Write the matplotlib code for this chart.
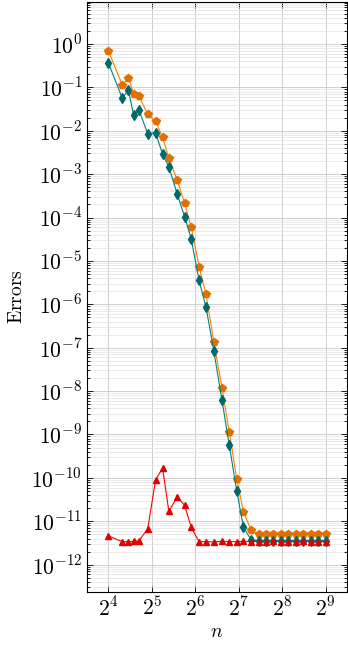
import matplotlib
matplotlib.use("Agg")
import matplotlib.pyplot as plt
from matplotlib.ticker import LogLocator, NullFormatter, FixedLocator

plt.rcParams['mathtext.fontset'] = 'cm'
plt.rcParams['font.family'] = 'serif'
plt.rcParams['font.serif'] = ['DejaVu Serif']

# sample sizes n
n = [16, 20, 22, 24, 26, 30, 34, 38, 42, 48, 54, 60, 68, 76, 86, 98, 110, 124,
     138, 156, 176, 198, 222, 251, 282, 319, 358, 405, 455, 512]

err_orange = [0.7, 0.1135, 0.165, 0.0716, 0.0634, 0.024, 0.0166, 0.00708,
              0.0024, 7.24e-4, 2.14e-4, 6.03e-5, 7.41e-6, 1.70e-6, 1.38e-7,
              1.20e-8, 1.17e-9, 9.55e-11, 1.66e-11, 6.17e-12, 5.0e-12,
              5.2e-12, 5.1e-12, 5.1e-12, 5.0e-12, 5.1e-12, 5.1e-12, 5.2e-12,
              5.1e-12, 5.1e-12]
err_teal = [0.37, 0.0562, 0.0885, 0.0228, 0.0306, 0.00857, 0.00904, 0.00288,
            0.00148, 3.47e-4, 1.05e-4, 3.24e-5, 3.55e-6, 8.51e-7, 8.51e-8,
            6.17e-9, 5.75e-10, 5.01e-11, 7.24e-12, 3.72e-12, 3.6e-12,
            3.6e-12, 3.6e-12, 3.6e-12, 3.6e-12, 3.6e-12, 3.6e-12, 3.6e-12,
            3.6e-12, 3.6e-12]
err_red = [4.6e-12, 3.39e-12, 3.39e-12, 3.45e-12, 3.5e-12, 6.76e-12,
           8.91e-11, 1.70e-10, 1.70e-11, 3.63e-11, 2.34e-11, 7.24e-12,
           3.39e-12, 3.39e-12, 3.35e-12, 3.45e-12, 3.4e-12, 3.4e-12,
           3.45e-12, 3.4e-12, 3.4e-12, 3.4e-12, 3.45e-12, 3.4e-12, 3.4e-12,
           3.4e-12, 3.45e-12, 3.4e-12, 3.4e-12, 3.4e-12]

xtick_exp = [4, 5, 6, 7, 8, 9]
ytick_exp = list(range(0, -13, -1))

fig = plt.figure(figsize=(3.48, 6.47), dpi=100)
ax = fig.add_axes([87 / 348, 1 - 592 / 647, 260 / 348, 590 / 647])

ax.plot(n, err_orange, color='#ff8000', lw=0.8, marker='p', ms=5.5,
        mfc='#e07000', mec='#e07000', zorder=3)
ax.plot(n, err_teal, color='#008080', lw=0.8, marker='d', ms=5,
        mfc='#006a6a', mec='#006a6a', zorder=4)
ax.plot(n, err_red, color='#ff0000', lw=0.8, marker='^', ms=5,
        mfc='#e00000', mec='#e00000', zorder=5)

ax.set_xscale('log', base=2)
ax.set_yscale('log')
ax.set_xlim(2 ** 3.51, 2 ** 9.49)
ax.set_ylim(10 ** -12.63, 10 ** 0.968)

ax.xaxis.set_major_locator(FixedLocator([2 ** e for e in xtick_exp]))
ax.set_xticklabels([r'$2^{%d}$' % e for e in xtick_exp])
ax.xaxis.set_minor_locator(FixedLocator([]))
ax.yaxis.set_major_locator(FixedLocator([10.0 ** e for e in ytick_exp]))
ax.set_yticklabels([r'$10^{%d}$' % e for e in ytick_exp])
ax.yaxis.set_minor_locator(LogLocator(base=10, subs=range(2, 10), numticks=50))
ax.yaxis.set_minor_formatter(NullFormatter())

ax.grid(True, which='major', color='#c8c8c8', lw=0.6)
ax.grid(True, which='minor', axis='y', color='#e2e2e2', lw=0.5)
ax.set_axisbelow(True)

ax.tick_params(which='both', direction='in', top=True, right=True,
               labelsize=15.5, width=0.6)
ax.tick_params(which='major', length=4)
ax.tick_params(which='minor', length=2)
for s in ax.spines.values():
    s.set_linewidth(0.8)

ax.set_ylabel(r'$\mathrm{Errors}$', fontsize=14, labelpad=4)
ax.set_xlabel(r'$n$', fontsize=14, labelpad=2)

fig.savefig('out.png', dpi=100)
